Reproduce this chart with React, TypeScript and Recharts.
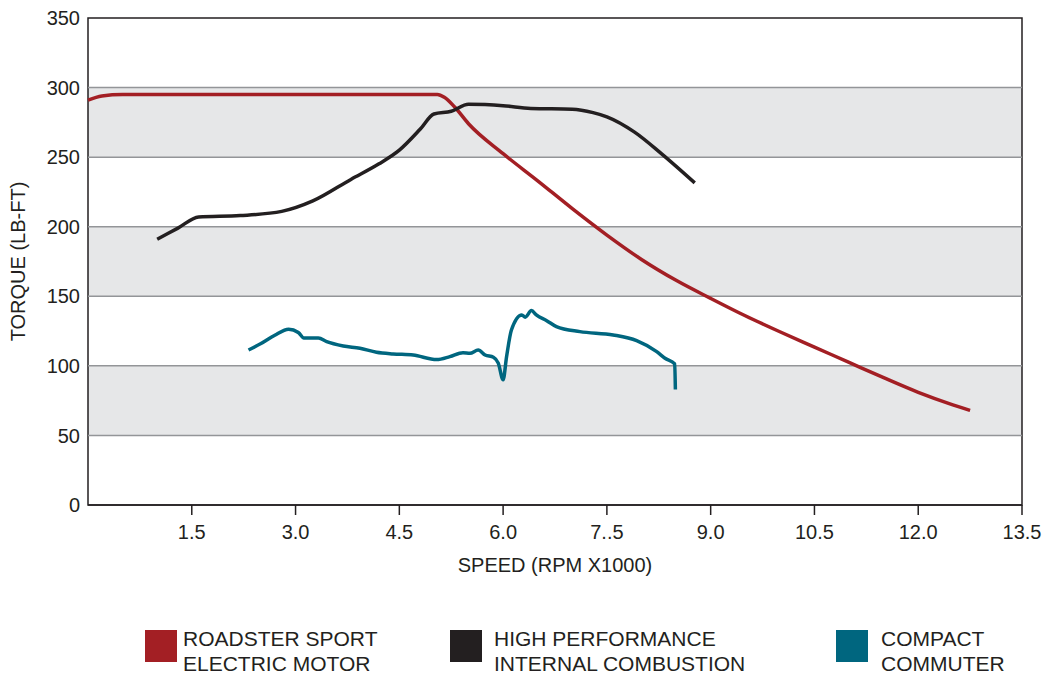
import React from "react"
import { LineChart, Line, XAxis, YAxis, ReferenceArea, ReferenceLine, Label } from "recharts"

const FONT = "'Liberation Sans', Arial, sans-serif"
const INK = "#231f20"

// speed in thousands of rpm, torque in lb-ft
const electricRpm = [0, 0.2, 0.5, 1.5, 3.0, 4.5, 5.05, 5.15, 5.3, 5.5, 6.0, 6.5, 7.0, 7.5, 8.0, 8.5, 9.0, 9.5, 10.0, 10.5, 11.0, 11.5, 12.0, 12.5, 12.75]
const electricTorque = [291, 294, 295, 295, 295, 295, 295, 293, 286, 274, 252.5, 233, 213, 194, 176.5, 161.5, 148.5, 136, 124.5, 113.5, 102.5, 91.5, 81, 72, 68]

const combustionRpm = [1.0, 1.3, 1.6, 2.2, 2.8, 3.25, 3.8, 4.2, 4.5, 4.8, 5.0, 5.25, 5.5, 6.0, 6.4, 7.0, 7.3, 7.5, 7.9, 8.3, 8.77]
const combustionTorque = [191, 199, 207, 208, 211, 218.5, 234, 245, 255, 270, 281, 283, 288, 287, 285, 284.5, 282, 279, 268, 252, 231.5]

const commuterRpm = [2.32, 2.5, 2.7, 2.9, 3.04, 3.12, 3.33, 3.45, 3.69, 3.93, 4.17, 4.41, 4.7, 5.04, 5.23, 5.42, 5.52, 5.64, 5.74, 5.86, 5.93, 6.0, 6.05, 6.12, 6.27, 6.32, 6.41, 6.48, 6.63, 6.77, 7.11, 7.59, 7.93, 8.22, 8.34, 8.48, 8.49]
const commuterTorque = [111.4, 116, 122, 126.3, 124, 120, 120, 117.4, 114.3, 112.6, 109.8, 108.6, 107.8, 104.5, 106.6, 109.5, 109, 111.4, 107.8, 106.2, 102, 90, 106.6, 125.8, 136.6, 135, 139.7, 136.6, 132.5, 128.2, 124.6, 122.2, 118.1, 110.2, 105.5, 101.4, 83]

const xTicks = [1.5, 3.0, 4.5, 6.0, 7.5, 9.0, 10.5, 12.0, 13.5]
const xTickLabels = ["1.5", "3.0", "4.5", "6.0", "7..5", "9.0", "10.5", "12.0", "13.5"]
const yTicks = [0, 50, 100, 150, 200, 250, 300, 350]
const bands = [[50, 100], [150, 200], [250, 300]]
const gridLines = [50, 100, 150, 200, 250, 300]

const series = [
  { key: "electric", lines: ["ROADSTER SPORT", "ELECTRIC MOTOR"], color: "#a31f24", rpm: electricRpm, torque: electricTorque },
  { key: "combustion", lines: ["HIGH PERFORMANCE", "INTERNAL COMBUSTION"], color: "#231f20", rpm: combustionRpm, torque: combustionTorque },
  { key: "commuter", lines: ["COMPACT", "COMMUTER"], color: "#00667f", rpm: commuterRpm, torque: commuterTorque },
]

const legendPos = [
  { box: 145, text: 183 },
  { box: 450, text: 494 },
  { box: 836, text: 881 },
]

const tickStyle = { fill: INK, fontSize: 20, fontFamily: FONT }

export default function App() {
  return (
    <div style={{ position: "absolute", top: 0, left: 0, width: 1050, height: 673, background: "#fff", fontFamily: FONT }}>
      <LineChart width={1050} height={600} margin={{ top: 18, right: 28, bottom: 25, left: 0 }}>
        {bands.map(([lo, hi]) => (
          <ReferenceArea key={lo} x1={0} x2={13.5} y1={lo} y2={hi} fill="#e6e7e8" fillOpacity={1} stroke="none" />
        ))}
        {gridLines.map((v) => (
          <ReferenceLine key={v} y={v} stroke="#939598" strokeWidth={1.5} />
        ))}
        <ReferenceArea x1={0} x2={13.5} y1={0} y2={350} fill="none" stroke={INK} strokeWidth={1.5} />
        <XAxis
          type="number"
          dataKey="rpm"
          domain={[0, 13.5]}
          ticks={xTicks}
          tickFormatter={(v) => xTickLabels[xTicks.indexOf(v)] ?? String(v)}
          axisLine={{ stroke: INK, strokeWidth: 1.5 }}
          tickLine={{ stroke: INK, strokeWidth: 1.5 }}
          tickSize={10}
          tickMargin={10}
          height={70}
          tick={tickStyle}
          interval={0}
        >
          <Label
            content={({ viewBox }: any) => (
              <text x={viewBox.x + viewBox.width / 2} y={viewBox.y + 60} textAnchor="middle" dominantBaseline="central" fill={INK} fontSize={20} fontFamily={FONT}>
                SPEED (RPM X1000)
              </text>
            )}
          />
        </XAxis>
        <YAxis
          type="number"
          domain={[0, 350]}
          ticks={yTicks}
          width={88}
          axisLine={false}
          tickLine={false}
          tickSize={0}
          tickMargin={8}
          tick={tickStyle}
          interval={0}
        >
          <Label
            content={({ viewBox }: any) => {
              const cx = viewBox.x + 18
              const cy = viewBox.y + viewBox.height / 2
              return (
                <text x={cx} y={cy} transform={`rotate(-90 ${cx} ${cy})`} textAnchor="middle" dominantBaseline="central" fill={INK} fontSize={20} fontFamily={FONT}>
                  TORQUE (LB-FT)
                </text>
              )
            }}
          />
        </YAxis>
        {series.map((s) => (
          <Line
            key={s.key}
            data={s.rpm.map((rpm, i) => ({ rpm, torque: s.torque[i] }))}
            dataKey="torque"
            type="monotone"
            stroke={s.color}
            strokeWidth={3.5}
            dot={false}
            activeDot={false}
            isAnimationActive={false}
          />
        ))}
      </LineChart>
      {series.map((s, i) => (
        <React.Fragment key={s.key}>
          <div style={{ position: "absolute", left: legendPos[i].box, top: 630, width: 32, height: 32, background: s.color }} />
          <div style={{ position: "absolute", left: legendPos[i].text, top: 626, fontSize: 21, lineHeight: "25px", color: INK, whiteSpace: "nowrap" }}>
            {s.lines[0]}
            <br />
            {s.lines[1]}
          </div>
        </React.Fragment>
      ))}
    </div>
  )
}
